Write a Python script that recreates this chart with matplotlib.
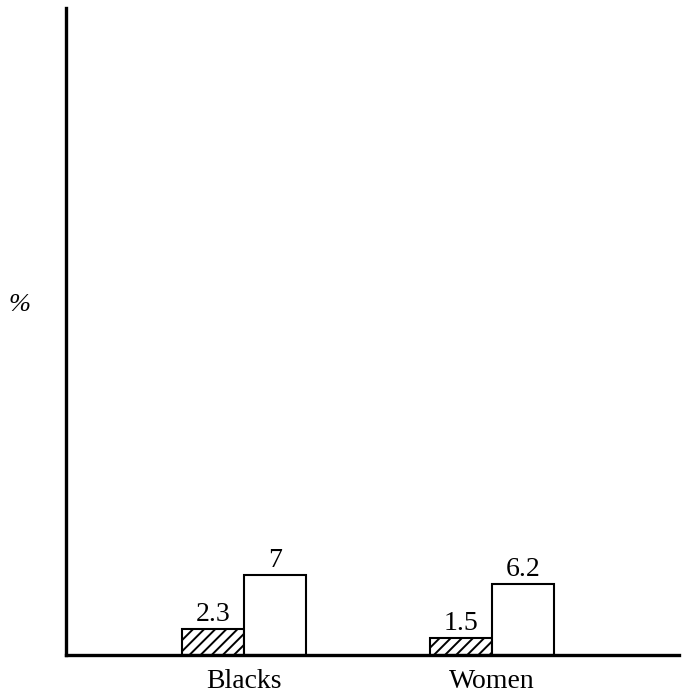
import numpy as np
import matplotlib.pyplot as plt

groups = ["Blacks", "Women"]
hatched = [2.3, 1.5]
plain = [7, 6.2]

plt.rcParams['font.family'] = ['Liberation Serif', 'DejaVu Serif']
plt.rcParams['hatch.linewidth'] = 1.4

fig = plt.figure(figsize=(6.84, 6.98), dpi=100)
ax = fig.add_axes([66/684, 1 - 655/698, 613/684, 647/698])

x = np.arange(len(groups))
w = 0.25
hb = ax.bar(x - w/2, hatched, w, color='white', edgecolor='black', hatch='///', linewidth=1.5)
pb = ax.bar(x + w/2, plain, w, color='white', edgecolor='black', linewidth=1.5)

for rect, v in zip(hb, hatched):
    ax.text(rect.get_x() + rect.get_width()/2, v + 0.15, str(v), ha='center', va='bottom', fontsize=20)
for rect, v in zip(pb, plain):
    ax.text(rect.get_x() + rect.get_width()/2, v + 0.15, str(v), ha='center', va='bottom', fontsize=20)

ax.set_xlim(-0.718, -0.718 + 613/248)
ax.set_ylim(0, 647/11.5)
ax.set_xticks(x)
ax.set_xticklabels(groups, fontsize=20)
ax.tick_params(axis='x', length=0, pad=10)
ax.set_yticks([])
for s in ['top', 'right']:
    ax.spines[s].set_visible(False)
ax.spines['left'].set_linewidth(2.4)
ax.spines['bottom'].set_linewidth(2.4)

fig.text(20/684, 1 - 305/698, "%", fontsize=19, style='italic', ha='center', va='center')

fig.savefig("out.png", dpi=100)
